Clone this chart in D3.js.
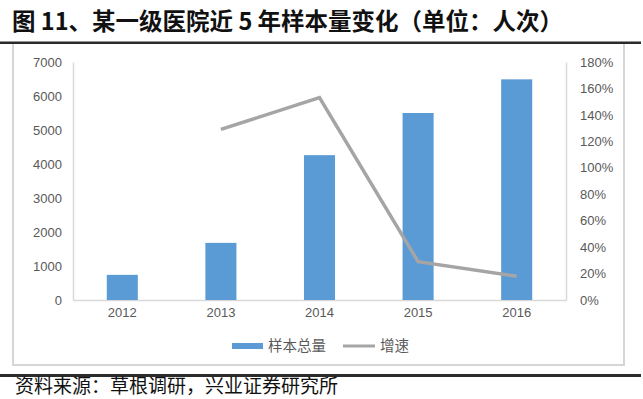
<!DOCTYPE html>
<html>
<head>
<meta charset="utf-8">
<script src="https://cdn.jsdelivr.net/npm/d3@7"></script>
<style>
body { margin: 0; background: #fff; }
</style>
</head>
<body>
<div id="chart"></div>
<script>
var years = ["2012", "2013", "2014", "2015", "2016"];
var sampleTotal = [740, 1680, 4260, 5500, 6490];
var growth = [null, 1.29, 1.53, 0.29, 0.18];
var leftTicks = [0, 1000, 2000, 3000, 4000, 5000, 6000, 7000];
var rightTicks = [0, 0.2, 0.4, 0.6, 0.8, 1.0, 1.2, 1.4, 1.6, 1.8];

var W = 643, H = 399;
var svg = d3.select("#chart").append("svg")
  .attr("width", W).attr("height", H);

// title
svg.append("text")
  .attr("x", 12).attr("y", 30)
  .style("font-family", "'Noto Sans CJK SC'")
  .style("font-weight", "bold")
  .style("font-size", "23.5px")
  .attr("fill", "#111")
  .text("图 11、某一级医院近 5 年样本量变化（单位：人次）");

// frame
svg.append("rect")
  .attr("x", 13).attr("y", 43).attr("width", 611).attr("height", 322)
  .attr("fill", "none").attr("stroke", "#d6d6d6").attr("stroke-width", 2);
svg.append("rect").attr("x", 0).attr("y", 41.5).attr("width", 641).attr("height", 2.5).attr("fill", "#2b2b2b");
svg.append("rect").attr("x", 0).attr("y", 374).attr("width", 641).attr("height", 3).attr("fill", "#2b2b2b");

// source
svg.append("text")
  .attr("x", 15).attr("y", 393)
  .style("font-family", "'Noto Sans CJK SC'")
  .style("font-size", "19px")
  .attr("fill", "#111")
  .text("资料来源：草根调研，兴业证券研究所");

var pLeft = 73, pRight = 566, pTop = 62, pBottom = 300;

var x = d3.scaleBand().domain(years).range([pLeft, pRight])
  .paddingInner(0.685).paddingOuter(0.3425);
var xc = d3.scaleBand().domain(years).range([pLeft, pRight]);
var yL = d3.scaleLinear().domain([0, 7000]).range([pBottom, pTop]);
var yR = d3.scaleLinear().domain([0, 1.8]).range([pBottom, pTop]);

var tickFont = "'Liberation Sans', Arial, sans-serif";

// left axis
var ax = svg.append("g").attr("transform", "translate(" + pLeft + ",0)")
  .call(d3.axisLeft(yL).tickValues(leftTicks).tickSize(0).tickPadding(11).tickFormat(d3.format("d")));
ax.select(".domain").attr("stroke", "#d9d9d9").attr("stroke-width", 1.5);
ax.selectAll("text").style("font-family", tickFont).style("font-size", "13px").attr("fill", "#595959");

// right axis
var ar = svg.append("g").attr("transform", "translate(" + pRight + ",0)")
  .call(d3.axisRight(yR).tickValues(rightTicks).tickSize(0).tickPadding(14).tickFormat(d3.format(".0%")));
ar.select(".domain").attr("stroke", "#d9d9d9").attr("stroke-width", 1.5);
ar.selectAll("text").style("font-family", tickFont).style("font-size", "13px").attr("fill", "#595959");

// bottom axis
var ab = svg.append("g").attr("transform", "translate(0," + pBottom + ")")
  .call(d3.axisBottom(xc).tickSize(0).tickPadding(8));
ab.select(".domain").attr("stroke", "#d9d9d9").attr("stroke-width", 1.5);
ab.selectAll("text").style("font-family", tickFont).style("font-size", "13px").attr("fill", "#595959");

// bars
svg.append("g").selectAll("rect")
  .data(sampleTotal)
  .enter()
  .append("rect")
  .attr("x", function(d, i) { return x(years[i]); })
  .attr("width", x.bandwidth())
  .attr("y", function(d) { return yL(d); })
  .attr("height", function(d) { return pBottom - yL(d); })
  .attr("fill", "#5b9bd5");

// growth line
var line = d3.line()
  .defined(function(d) { return d != null; })
  .x(function(d, i) { return xc(years[i]) + xc.bandwidth() / 2; })
  .y(function(d) { return yR(d); });
svg.append("path")
  .attr("d", line(growth))
  .attr("fill", "none")
  .attr("stroke", "#a5a5a5")
  .attr("stroke-width", 3.5);

// legend
var lg = svg.append("g").style("font-family", "'Noto Sans CJK SC'").style("font-size", "14.5px");
lg.append("rect").attr("x", 232).attr("y", 343).attr("width", 31).attr("height", 6).attr("fill", "#5b9bd5");
lg.append("text").attr("x", 268).attr("y", 351).attr("fill", "#595959").text("样本总量");
lg.append("line").attr("x1", 343).attr("x2", 375).attr("y1", 346).attr("y2", 346)
  .attr("stroke", "#a5a5a5").attr("stroke-width", 3);
lg.append("text").attr("x", 380).attr("y", 351).attr("fill", "#595959").text("增速");
</script>
</body>
</html>
